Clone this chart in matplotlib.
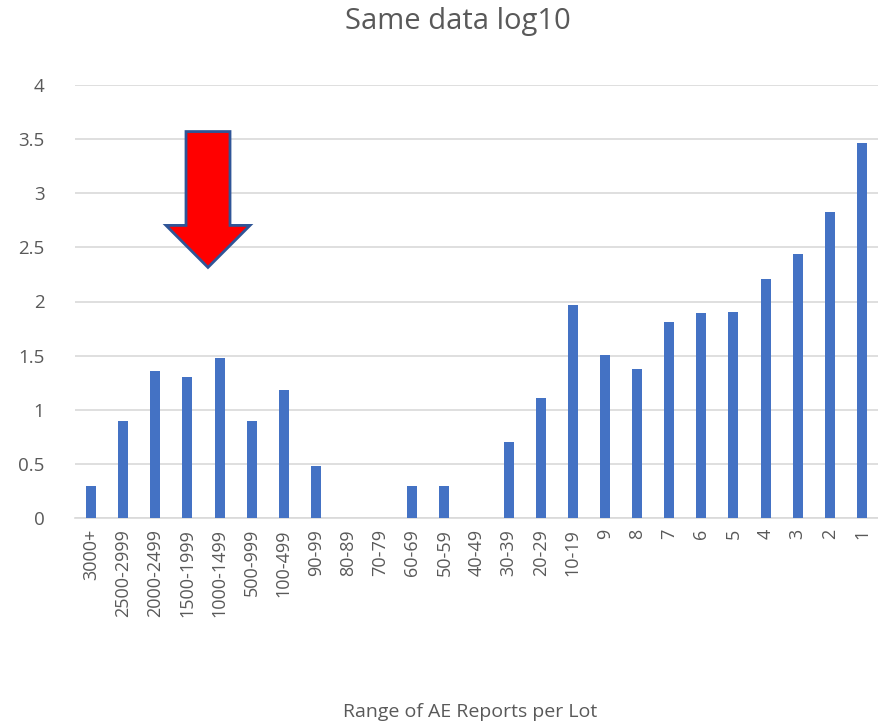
import matplotlib.pyplot as plt
from matplotlib.patches import Polygon

# ── DATA ───────────────────────────────────────────────────
categories = ["3000+", "2500-2999", "2000-2499", "1500-1999", "1000-1499",
              "500-999", "100-499", "90-99", "80-89", "70-79", "60-69",
              "50-59", "40-49", "30-39", "20-29", "10-19",
              "9", "8", "7", "6", "5", "4", "3", "2", "1"]
log_values = [0.30, 0.90, 1.36, 1.30, 1.48, 0.90, 1.18, 0.48, 0, 0, 0.30,
              0.30, 0, 0.70, 1.11, 1.97, 1.505, 1.38, 1.81, 1.89, 1.90,
              2.21, 2.435, 2.83, 3.465]
y_ticks = [0, 0.5, 1, 1.5, 2, 2.5, 3, 3.5, 4]
y_labels = ["0", "0.5", "1", "1.5", "2", "2.5", "3", "3.5", "4"]

# ── STYLE ──────────────────────────────────────────────────
BAR = "#4472C4"
TEXT = "#595959"
GRID = "#D9D9D9"
plt.rcParams["font.family"] = ["Open Sans", "DejaVu Sans"]

fig = plt.figure(figsize=(8.79, 7.26), dpi=100)
ax = fig.add_axes([75 / 879, 208 / 726, 803 / 879, 433 / 726])

x = list(range(len(categories)))
ax.bar(x, log_values, width=0.31, color=BAR, zorder=3)

ax.set_xlim(-0.5, len(categories) - 0.5)
ax.set_ylim(0, 4)
ax.set_yticks(y_ticks)
ax.set_yticklabels(y_labels)
ax.set_xticks(x)
ax.set_xticklabels(categories, rotation=90)
ax.tick_params(length=0, labelsize=13.5, colors=TEXT)
ax.tick_params(axis="x", labelsize=13)
ax.tick_params(axis="y", pad=22)
ax.tick_params(axis="x", pad=8)
ax.grid(axis="y", color=GRID, linewidth=1.2, zorder=0)
for side in ["top", "right", "left"]:
    ax.spines[side].set_visible(False)
ax.spines["bottom"].set_color(GRID)
ax.spines["bottom"].set_linewidth(1.2)

fig.text(458 / 879, 1 - 22 / 726, "Same data log10",
         ha="center", va="center", fontsize=21, color=TEXT)
fig.text(470 / 879, 1 - 712 / 726, "Range of AE Reports per Lot",
         ha="center", va="center", fontsize=14, color=TEXT)

# red arrow callout pointing at the 1000-1499 range
arrow = Polygon([(2.956, 3.57), (4.326, 3.57), (4.326, 2.703), (4.948, 2.703),
                 (3.64, 2.315), (2.333, 2.703), (2.956, 2.703)],
                closed=True, facecolor="#FF0000", edgecolor="#2F5597",
                linewidth=2, zorder=5, clip_on=False)
ax.add_patch(arrow)

plt.savefig("out.png", dpi=100)
